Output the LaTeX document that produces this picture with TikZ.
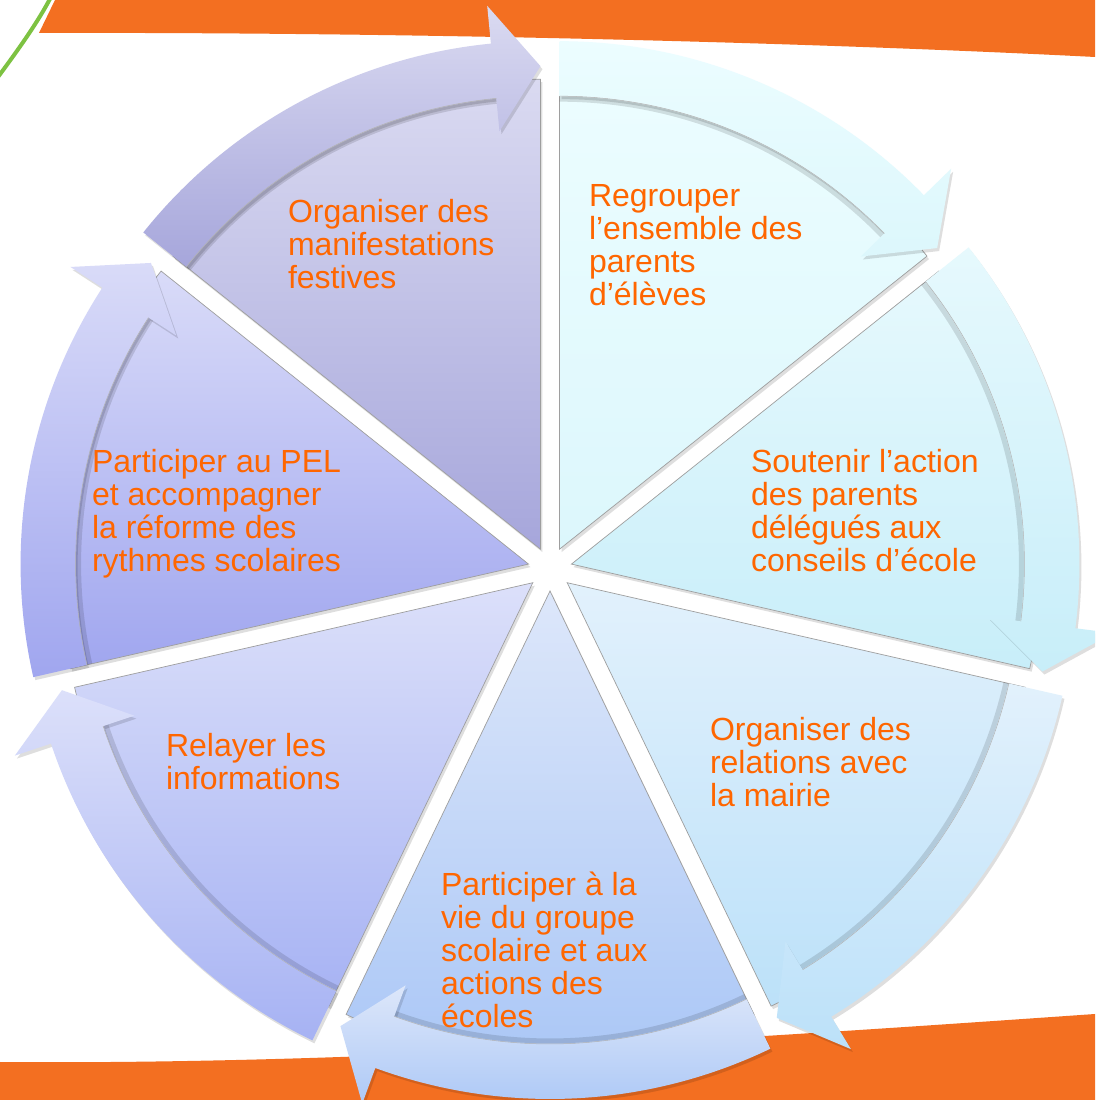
\documentclass[tikz,border=0pt]{standalone}
\usepackage{fontspec}
\setmainfont{Liberation Sans}
\usetikzlibrary{calc}
\definecolor{orangeband}{HTML}{F36F21}
\definecolor{txt}{HTML}{FF6600}
\definecolor{leaf}{HTML}{7DC242}
\definecolor{t1}{HTML}{DADAF1}\definecolor{b1}{HTML}{A6A6DB}
\definecolor{t2}{HTML}{ECFDFF}\definecolor{b2}{HTML}{DCF7FC}
\definecolor{t3}{HTML}{E6F9FD}\definecolor{b3}{HTML}{C8EEF9}
\definecolor{t4}{HTML}{E2F1FC}\definecolor{b4}{HTML}{BCE1F9}
\definecolor{t5}{HTML}{DDE7FA}\definecolor{b5}{HTML}{A9C6F6}
\definecolor{t6}{HTML}{DCE0FA}\definecolor{b6}{HTML}{A6B2F3}
\definecolor{t7}{HTML}{D9DBF8}\definecolor{b7}{HTML}{A0A6EF}
\newcommand\lbl[1]{\parbox[t]{400pt}{\fontsize{32}{33}\selectfont\raggedright\leavevmode#1}}
\tikzset{
  label text/.style={anchor=base west, inner sep=0pt, outer sep=0pt, text=txt},
  soft shadow/.style={fill=black, opacity=0.13},
  wedge edge/.style={draw=black!38, line width=0.7pt},
}
\begin{document}
\begin{tikzpicture}[x=1pt,y=1pt]
\useasboundingbox (0,0) rectangle (1095,1100);
\clip (0,0) rectangle (1095,1100);
\fill[white] (0,0) rectangle (1095,1100);
% orange bands
\fill[orangeband] (55,1100) -- (39,1067) .. controls (400,1068) and (800,1058) .. (1095,1043) -- (1095,1100) -- cycle;
\fill[orangeband] (0,0) -- (0,38) .. controls (350,35) and (750,62) .. (1095,86) -- (1095,0) -- cycle;
% green curve
\draw[leaf, line width=4pt] (-2,1023) .. controls (18,1050) and (38,1078) .. (51,1103);
% sectors with curved arrows
\foreach \n/\s in {1/90, 2/38.5714, 3/-12.8571, 4/-64.2857, 5/-115.7143, 6/-167.1429, 7/141.4286} {
  \pgfmathsetmacro\e{\s+51.4286}
  \pgfmathsetmacro\m{\s+25.7143}
  \pgfmathsetmacro\hh{\s+5.6}
  \coordinate (c\n) at ($(550,531)+(\m:22)$);
  \def\wedgepath{(c\n) -- ($(c\n)+(\s:470)$) arc[start angle=\s, end angle=\e, radius=470] -- cycle}
  \def\bandpath{($(c\n)+(\e:508)$) arc[start angle=\e, end angle=\hh, radius=508]
      -- ($(c\n)+(\hh:546)$) -- ($(c\n)+(\s:483)$) -- ($(c\n)+(\hh:420)$)
      -- ($(c\n)+(\hh:453)$) arc[start angle=\hh, end angle=\e, radius=453] -- cycle}
  \begin{scope}[transform canvas={shift={(2pt,-3pt)}}]
    \path[soft shadow] \wedgepath;
  \end{scope}
  \path[top color=t\n, bottom color=b\n, wedge edge] \wedgepath;
  \draw[black, opacity=0.12, line width=5pt] ($(c\n)+(\hh:450)$) arc[start angle=\hh, end angle=\e, radius=450];
  \begin{scope}[transform canvas={shift={(2pt,-3pt)}}]
    \path[soft shadow] \bandpath;
  \end{scope}
  \path[top color=t\n, bottom color=b\n] \bandpath;
  \draw[black!30, line width=0.5pt] ($(c\n)+(\hh:453)$) arc[start angle=\hh, end angle=\e, radius=453];
}
% labels
\node[label text] (l1) at (288,877) {\lbl{Organiser des\\manifestations\\festives}};
\node[label text] (l2) at (589,893) {\lbl{Regrouper\\l’ensemble des\\parents\\d’élèves}};
\node[label text] (l3) at (751,627) {\lbl{Soutenir l’action\\des parents\\délégués aux\\conseils d’école}};
\node[label text] (l4) at (710,359) {\lbl{Organiser des\\relations avec\\la mairie}};
\node[label text] (l5) at (441,204) {\lbl{Participer à la\\vie du groupe\\scolaire et aux\\actions des\\écoles}};
\node[label text] (l6) at (166,343) {\lbl{Relayer les\\informations}};
\node[label text] (l7) at (92,627) {\lbl{Participer au PEL\\et accompagner\\la réforme des\\rythmes scolaires}};
\end{tikzpicture}
\end{document}
